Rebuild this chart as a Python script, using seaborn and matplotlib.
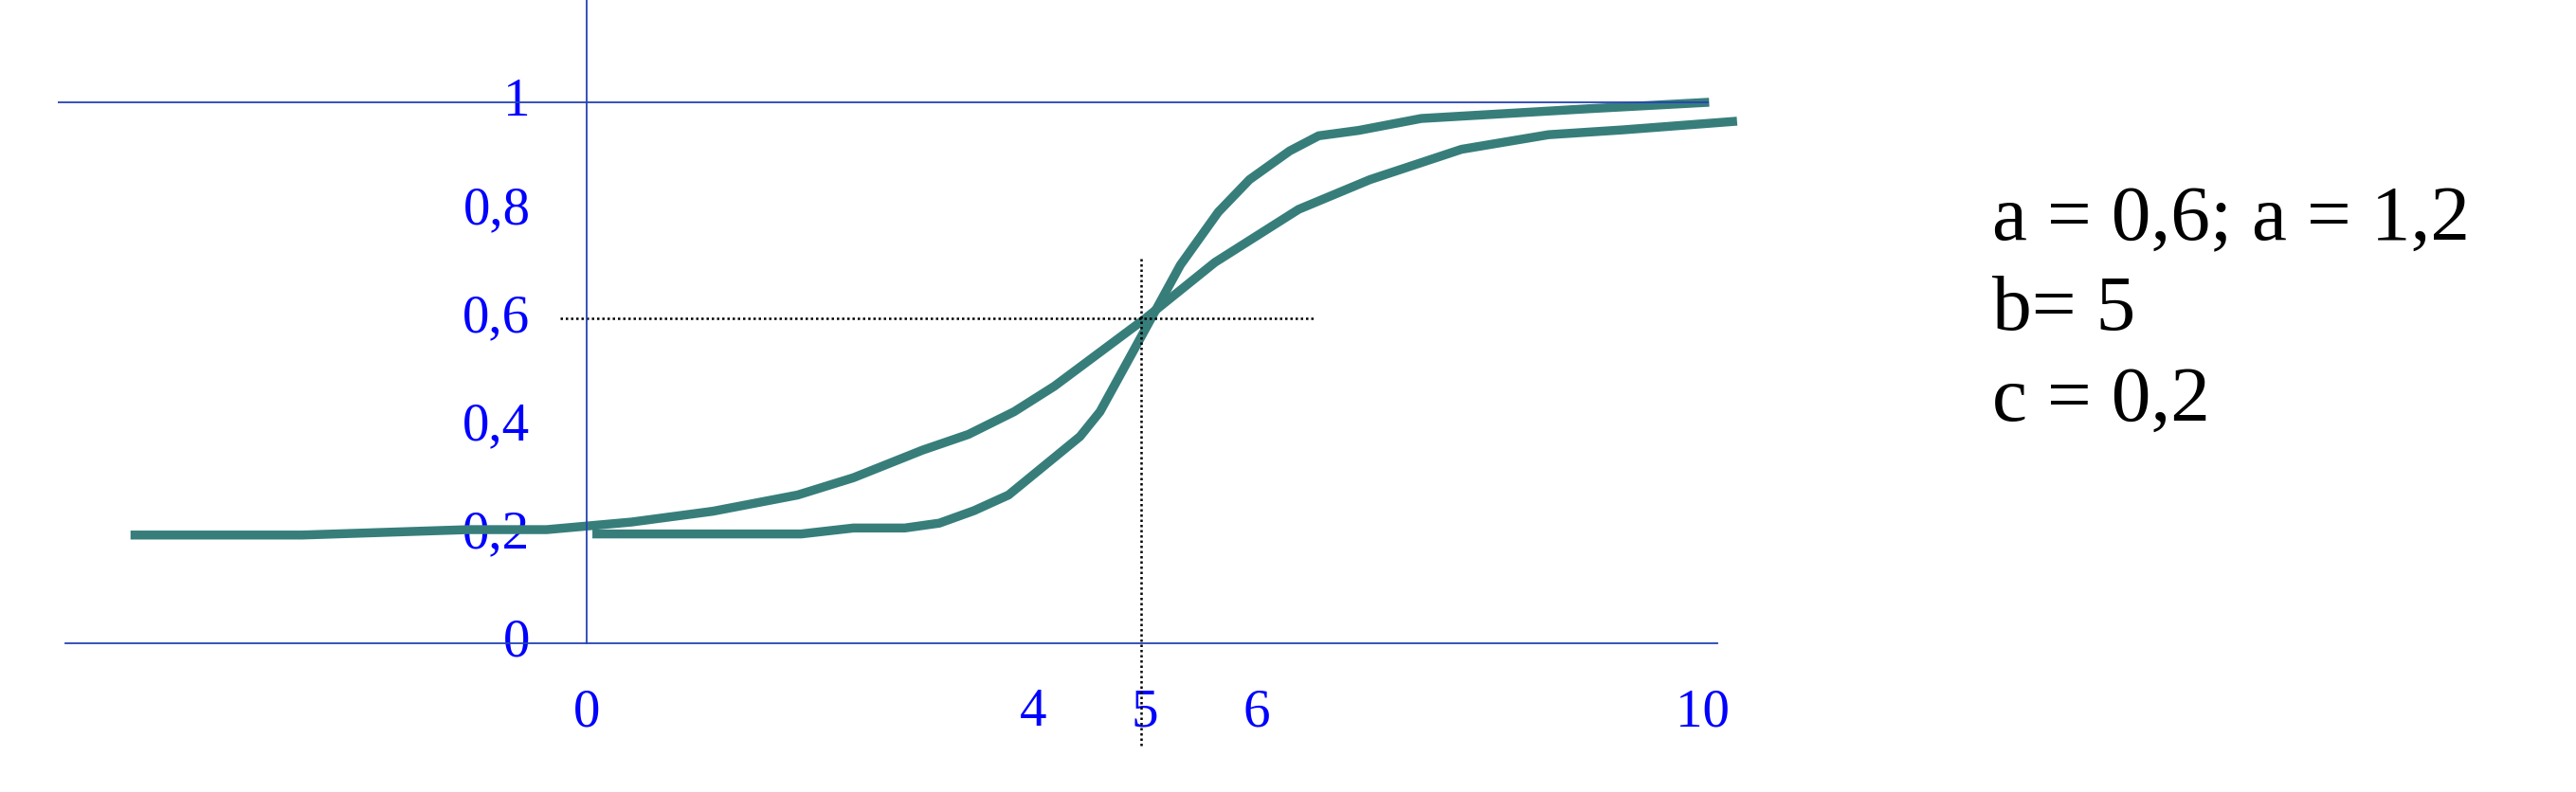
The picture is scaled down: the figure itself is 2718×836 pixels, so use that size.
import numpy as np
import pandas as pd
import seaborn as sns
import matplotlib.pyplot as plt
import matplotlib.transforms as mtransforms

# curve a = 0,6 (flatter)
x_a06 = [-4.09, -2.55, -1.06, -0.36, 0.40, 1.13, 1.89, 2.39, 3.01, 3.42, 3.83, 4.19,
         5.01, 5.63, 6.38, 7.02, 7.84, 8.62, 9.29, 10.31]
y_a06 = [0.200, 0.200, 0.210, 0.210, 0.224, 0.244, 0.274, 0.306, 0.357, 0.386, 0.428, 0.475,
         0.601, 0.704, 0.802, 0.857, 0.913, 0.940, 0.949, 0.965]

# curve a = 1,2 (steeper)
x_a12 = [0.05, 1.00, 1.92, 2.39, 2.85, 3.16, 3.47, 3.78, 4.42, 4.60, 5.01, 5.32,
         5.66, 5.94, 6.30, 6.56, 6.92, 7.48, 8.98, 10.06]
y_a12 = [0.202, 0.202, 0.202, 0.213, 0.213, 0.222, 0.245, 0.274, 0.382, 0.428, 0.582, 0.699,
         0.797, 0.857, 0.910, 0.938, 0.948, 0.970, 0.988, 1.000]

x_ticks = [0, 4, 5, 6, 10]
x_tick_labels = ['0', '4', '5', '6', '10']
y_ticks = [0, 0.2, 0.4, 0.6, 0.8, 1]
y_tick_labels = ['0', '0,2', '0,4', '0,6', '0,8', '1']

# dotted guide lines through (b, P(b))
guide_h_y = 0.6
guide_h_x = [-0.24, 6.52]
guide_v_x = 4.97
guide_v_y = [-0.19, 0.715]

param_text = ['a = 0,6; a = 1,2', 'b= 5', 'c = 0,2']

df = pd.concat([
    pd.DataFrame({'x': x_a06, 'p': y_a06, 'a': '0,6'}),
    pd.DataFrame({'x': x_a12, 'p': y_a12, 'a': '1,2'}),
])

sns.set_style('white')
plt.rcParams['font.family'] = ['Liberation Serif', 'DejaVu Serif']

fig = plt.figure(figsize=(27.18, 8.36), dpi=100)
ax = fig.add_axes([0, 0, 1, 1])

teal = '#377E7B'
sns.lineplot(data=df, x='x', y='p', units='a', estimator=None, sort=False,
             color=teal, linewidth=6.8, legend=False, ax=ax)
for ln in ax.lines:
    ln.set_solid_capstyle('butt')

ax.set_xlim(-5.26, 17.83)
ax.set_ylim(-0.275, 1.189)

axis_blue = '#2444B4'
ax.spines['left'].set_position(('data', 0))
ax.spines['bottom'].set_position(('data', 0))
ax.spines['left'].set_bounds(0, 1.189)
ax.spines['bottom'].set_bounds(-4.67, 10.13)
for s in ['top', 'right']:
    ax.spines[s].set_visible(False)
for s in ['left', 'bottom']:
    ax.spines[s].set_color(axis_blue)
    ax.spines[s].set_linewidth(1.3)

ax.hlines(1, -4.74, 10.06, color=axis_blue, linewidth=1.3)

ax.hlines(guide_h_y, guide_h_x[0], guide_h_x[1], color='black',
          linewidth=1.8, linestyles=(0, (1, 1.2)))
ax.vlines(guide_v_x, guide_v_y[0], guide_v_y[1], color='black',
          linewidth=1.8, linestyles=(0, (1, 1.2)))

ax.set_xticks(x_ticks)
ax.set_xticklabels(x_tick_labels)
ax.set_yticks(y_ticks)
ax.set_yticklabels(y_tick_labels)
ax.tick_params(axis='both', direction='out', length=13, width=1.1, color='black',
               labelcolor='#0000FF', labelsize=41)
ax.tick_params(axis='x', pad=21)
ax.tick_params(axis='y', pad=30)
ax.set_xlabel('')
ax.set_ylabel('')
ax.grid(False)

# y labels sit a little above their ticks in the original
up = mtransforms.ScaledTranslation(0, 6 / 100, fig.dpi_scale_trans)
for lab in ax.get_yticklabels():
    lab.set_transform(lab.get_transform() + up)

ys = [0.6974, 0.5837, 0.4689]
for t, yy in zip(param_text, ys):
    ax.text(0.7735, yy, t, transform=ax.transAxes, fontsize=60, color='black',
            ha='left', va='baseline')

fig.savefig('out.png', dpi=100)
